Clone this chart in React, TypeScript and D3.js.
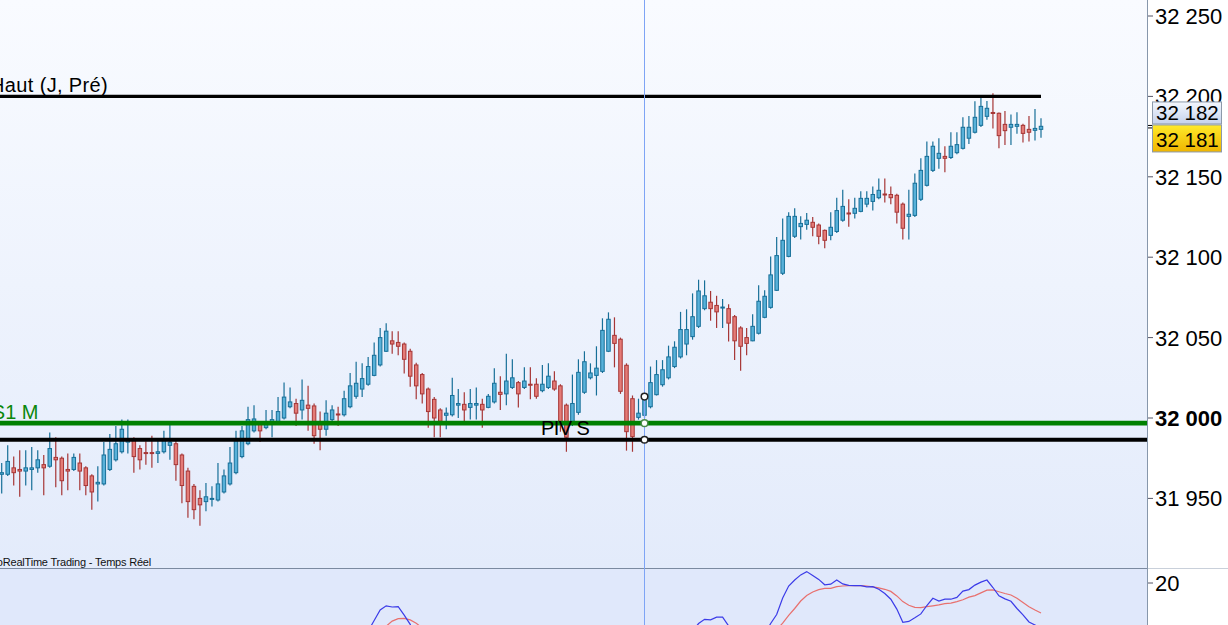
import * as d3 from 'd3';

const W = 1228;
const H = 625;
const PLOT_RIGHT = 1147;
const SPLIT_Y = 568;

// one bar per period, index 0 = leftmost bar
const opens = [
  31965, 31965, 31969, 31968, 31967, 31968, 31969, 31971, 31970, 31975.5,
  31975, 31968, 31968, 31972, 31969, 31964, 31959, 31959, 31968, 31974,
  31979, 31985, 31986, 31981, 31978.5, 31978.5, 31978, 31979, 31983, 31984,
  31977, 31967, 31957.5, 31950, 31948, 31949.5, 31949, 31954, 31959, 31966,
  31976, 31984, 31992, 31996, 31994, 31997, 31997, 32000, 32007, 32009,
  32005, 32008, 32007.5, 31996, 31993, 31999, 32002.5, 32002, 32007, 32013.5,
  32018, 32021, 32026.5, 32033, 32041.5, 32048, 32047, 32046, 32041.5, 32033,
  32027, 32018, 32011.6, 32005, 32001.7, 32002, 32008, 32008.5, 32006.6, 32008,
  32008.5, 32006.6, 32010, 32016, 32015, 32019, 32022, 32019, 32021, 32021,
  32017, 32019, 32023, 32020, 32008, 31997, 32003.5, 32016, 32025, 32026.5,
  32029, 32041.5, 32051.4, 32049, 32032.8, 32012, 32000.4, 32001.7, 32007, 32014.5,
  32020.7, 32025, 32032, 32038, 32046, 32050.6, 32057, 32068, 32072, 32070,
  32068.5, 32068, 32063, 32056, 32050, 32048, 32052.7, 32062.6, 32068.8, 32079.4,
  32090, 32100.5, 32113, 32119, 32120.4, 32121.7, 32120, 32116.7, 32113.6, 32116,
  32123, 32127.5, 32127.3, 32128.5, 32133, 32134.7, 32137, 32139.3, 32139, 32138.5,
  32133, 32125.4, 32126, 32136, 32144.7, 32154, 32161.5, 32162.7, 32162, 32165,
  32167.7, 32174, 32177.7, 32182, 32187.6, 32190, 32189.5, 32182.6, 32180.8, 32181.4,
  32182, 32179.5, 32178.9, 32179.5,
];
const highs = [
  31972, 31983, 31976, 31980, 31980, 31982, 31980, 31977, 31991, 31988,
  31976, 31978, 31978, 31978, 31970, 31965, 31970, 31985, 31990, 31995,
  31999, 31999, 31988, 31983, 31985.5, 31989, 31986, 31992, 31996, 31986,
  31978, 31969, 31959, 31955, 31959.6, 31957.5, 31972, 31968, 31982, 31992,
  31995, 32007, 32008, 31997, 32005, 32005, 32013, 32022, 32019, 32012,
  32024, 32020, 32009, 32004, 32011, 32008, 32007, 32017, 32028, 32035,
  32034, 32038, 32047, 32056, 32059, 32054, 32054, 32047, 32043, 32034.4,
  32028, 32019, 32013, 32006, 32006.6, 32025, 32018, 32016, 32018, 32019,
  32012, 32015, 32031, 32026, 32040, 32036.5, 32023, 32031.5, 32031.5, 32024.7,
  32033, 32034, 32029, 32021, 32009, 32027, 32036.5, 32041.5, 32034, 32044.6,
  32062, 32065.7, 32062.6, 32050, 32034, 32014, 32012, 32015, 32032, 32036,
  32036, 32045, 32047.7, 32066, 32067.6, 32077.5, 32086, 32085.6, 32079, 32076,
  32074, 32070.7, 32064, 32057, 32056, 32064.5, 32082.5, 32079.4, 32100.5, 32112.6,
  32124, 32128, 32130.4, 32125.4, 32127.5, 32125, 32121, 32117.3, 32128, 32137,
  32142, 32136, 32137, 32141, 32141, 32144, 32149, 32149, 32144, 32139.5,
  32134, 32142, 32152, 32161.5, 32172, 32172, 32174, 32169, 32177.7, 32177.7,
  32187, 32187.8, 32197, 32199.2, 32197.1, 32201.9, 32190, 32190.9, 32188.8, 32190.1,
  32183, 32187.8, 32192.2, 32186.4,
];
const lows = [
  31953, 31964, 31958, 31951, 31958, 31955, 31966, 31952, 31969, 31957,
  31952, 31955, 31967, 31955, 31952, 31943, 31948, 31958, 31967, 31973,
  31978, 31978, 31966, 31968, 31971, 31969, 31972, 31978, 31974, 31961,
  31947, 31938, 31937, 31933, 31942, 31945, 31948, 31953, 31958, 31965,
  31975, 31983, 31991, 31985, 31993, 31988, 31996, 31999, 32006, 31995,
  31999, 31992, 31984, 31980, 31989, 31996, 31995, 32001, 32006, 32012,
  32013, 32020, 32026, 32032, 32041, 32040, 32039, 32027.6, 32019.5, 32011.6,
  32009, 31994, 31988, 31988, 31993, 32001, 32000, 31998, 31999, 31999,
  31994, 32006, 32009, 32005, 32008, 32018, 32006.6, 32018, 32011.6, 32012,
  32016, 32018, 32017, 31991.5, 31979, 31995, 32002, 32015, 32024, 32014,
  32028, 32041, 32031.5, 32015, 31979.7, 31979, 31999, 32000, 32006, 32014,
  32019.5, 32024, 32031, 32037, 32039, 32048.7, 32056, 32067, 32060.5, 32056,
  32056, 32047.5, 32036, 32029.4, 32039, 32047.7, 32052, 32062, 32068, 32079,
  32089, 32100, 32112, 32111, 32117, 32113, 32108, 32105.5, 32110.5, 32115,
  32122, 32119, 32124, 32128, 32131, 32129, 32136, 32134, 32133, 32121,
  32111, 32111, 32125, 32135, 32144, 32153, 32155, 32152.8, 32161, 32164,
  32167, 32170.4, 32177, 32181, 32185.5, 32180.1, 32167.7, 32169.8, 32169.8, 32176.8,
  32171.4, 32171.9, 32172.5, 32174.3,
];
const closes = [
  31966, 31973, 31966, 31967, 31969, 31969, 31974, 31969, 31981, 31974,
  31961, 31967, 31975.5, 31967, 31958, 31954, 31960, 31977, 31980.5, 31984,
  31993, 31987, 31976, 31974, 31978, 31978, 31979, 31986, 31985, 31971,
  31958, 31948, 31943, 31946, 31951, 31950, 31959, 31964, 31972, 31986,
  31992, 31999, 31999.4, 31992, 31996, 31999, 32004, 32013, 32010, 32003,
  32011, 32006, 31989, 31993, 32003, 32005, 32002, 32012, 32020, 32021.6,
  32024.5, 32032, 32039, 32050, 32054, 32046, 32044.6, 32036.5, 32026, 32020,
  32015, 32004, 32000, 31998, 32003, 32014, 32009, 32005, 32009, 32009,
  32005, 32013.5, 32021.6, 32014.7, 32023, 32025, 32015, 32023, 32020.5, 32013.5,
  32021, 32026, 32018, 31996.7, 31988, 32009, 32028.4, 32035, 32028, 32031,
  32054.5, 32061.4, 32046.4, 32016.6, 31991.5, 31988.4, 32003, 32013.3, 32022, 32027,
  32030, 32038, 32044, 32055, 32055, 32063, 32079, 32076, 32068, 32066,
  32069, 32059, 32048, 32044.6, 32046.4, 32057, 32072.6, 32075.7, 32089, 32101,
  32110.5, 32125.4, 32125.4, 32121, 32123, 32118.6, 32113, 32110.5, 32118.6, 32129,
  32131.6, 32127, 32130.4, 32136.6, 32136.6, 32139, 32141.6, 32139, 32137, 32128,
  32118, 32126.7, 32146, 32154, 32162.7, 32169, 32164.6, 32161.5, 32169, 32170,
  32180.8, 32180.8, 32187, 32193.8, 32192.6, 32189.5, 32175.6, 32178.7, 32182.6, 32182.6,
  32177, 32177.7, 32180.1, 32181.4,
];

// horizontal levels
const HAUT_J_PRE = 32200;
const S1_M = 31996.8;
const PIV_S = 31986.5;
const CURSOR_INDEX = 107;

const priceTicks = [31950, 32000, 32050, 32100, 32150, 32200, 32250];
const LAST_ASK = 32182;
const LAST_BID = 32181;

// lower indicator: fast (blue) and slow (red) lines, visible stretches only
const fastSegments = [
  { from: 61, values: [4, 7.5, 11, 12.4, 12, 12.1, 9.3, 6.2, 2] },
  { from: 115, values: [4, 6.5, 7.9, 7.7, 8.6, 8.6, 5.7, 3] },
  {
    from: 127,
    values: [
      3, 6.5, 9.5, 15, 19, 21, 22.7, 23.8, 22.5, 21.2, 19.4, 19.6, 21, 19.7, 19.2, 19.1, 19.1,
      18.7, 18.8, 17.9, 16.5, 14.6, 11.3, 6.9, 7.2, 8.4, 9.7, 12.5, 14.9, 14, 14.6, 14.6, 15.2,
      17.3, 17.8, 19.3, 20.3, 21, 18.5, 15.7, 14.7, 13.9, 11.5, 9.4, 7, 6, 5,
    ],
  },
];
const slowSegments = [
  { from: 63, values: [4, 5.6, 7.3, 8.1, 8.2, 7.7, 6.6, 5] },
  {
    from: 128,
    values: [
      2, 4.5, 6.6, 9.2, 11.5, 14, 15.8, 17, 17.8, 18.2, 18.2, 18.8, 19, 19.1, 19.1, 19.1, 19,
      18.7, 18.4, 17.9, 17.2, 15.7, 13.8, 12.6, 11.9, 11.8, 12.1, 12.4, 12.7, 13.1, 13.3, 13.8,
      14.4, 15.3, 15.8, 16.7, 17.6, 17.7, 17.1, 16.5, 16, 14.9, 13.5, 12.1, 11, 10,
    ],
  },
];
const indTicks = [20];

const FONT = "Arial, 'Liberation Sans', sans-serif";
const UP_FILL = '#58b1d9';
const UP_LINE = '#176f98';
const DN_FILL = '#e47b77';
const DN_LINE = '#a63636';

const fmt = (v: number) => d3.format(',')(v).replace(/,/g, ' ');

export default function App() {
  const n = closes.length;
  const x = d3.scaleLinear().domain([0, n - 1]).range([1.7, 1041]);
  const y = d3.scaleLinear().domain([31950, 32250]).range([498.4, 16]);
  const yInd = d3.scaleLinear().domain([0, 20]).range([643, 583]);
  const bodyW = 3.5;

  const segLine = (from: number) =>
    d3
      .line<number>()
      .x((_, i) => x(from + i))
      .y((d) => yInd(d));

  const cx = x(CURSOR_INDEX);
  const bidY = y(LAST_BID);

  return (
    <svg
      width={W}
      height={H}
      style={{ position: 'fixed', left: 0, top: 0, display: 'block' }}
    >
      <defs>
        <linearGradient id="bgMain" x1="0" y1="0" x2="0" y2="1">
          <stop offset="0" stopColor="#f9fbff" />
          <stop offset="1" stopColor="#e3ebfb" />
        </linearGradient>
        <linearGradient id="askBox" x1="0" y1="0" x2="0" y2="1">
          <stop offset="0" stopColor="#f4f7fd" />
          <stop offset="1" stopColor="#c5d2ec" />
        </linearGradient>
        <linearGradient id="bidBox" x1="0" y1="0" x2="0" y2="1">
          <stop offset="0" stopColor="#ffea2a" />
          <stop offset="1" stopColor="#efb500" />
        </linearGradient>
        <clipPath id="clipMain">
          <rect x={0} y={0} width={PLOT_RIGHT} height={SPLIT_Y} />
        </clipPath>
        <clipPath id="clipInd">
          <rect x={0} y={SPLIT_Y + 1} width={PLOT_RIGHT} height={H - SPLIT_Y - 1} />
        </clipPath>
      </defs>

      {/* backgrounds */}
      <rect x={0} y={0} width={PLOT_RIGHT} height={SPLIT_Y} fill="url(#bgMain)" />
      <rect x={0} y={SPLIT_Y} width={PLOT_RIGHT} height={H - SPLIT_Y} fill="#e0e8fb" />
      <rect x={PLOT_RIGHT} y={0} width={W - PLOT_RIGHT} height={H} fill="#ffffff" />

      {/* candles */}
      <g clipPath="url(#clipMain)">
        {closes.map((c, i) => {
          const o = opens[i];
          const up = c >= o;
          const top = y(Math.max(o, c));
          const h = Math.max(y(Math.min(o, c)) - top, 1);
          const xc = x(i);
          return (
            <g key={i}>
              <line
                x1={xc}
                x2={xc}
                y1={y(highs[i])}
                y2={y(lows[i])}
                stroke={up ? UP_LINE : DN_LINE}
                strokeWidth={1.2}
              />
              <rect
                x={xc - bodyW / 2}
                y={top}
                width={bodyW}
                height={h}
                fill={up ? UP_FILL : DN_FILL}
                stroke={up ? UP_LINE : DN_LINE}
                strokeWidth={1}
              />
            </g>
          );
        })}

        {/* levels */}
        <line x1={0} x2={x(n - 1)} y1={y(HAUT_J_PRE)} y2={y(HAUT_J_PRE)} stroke="#000" strokeWidth={3.3} />
        <line x1={0} x2={PLOT_RIGHT} y1={y(S1_M)} y2={y(S1_M)} stroke="#008000" strokeWidth={4.6} />
        <line x1={0} x2={PLOT_RIGHT} y1={y(PIV_S)} y2={y(PIV_S)} stroke="#000" strokeWidth={4} />

        <text x={108} y={91.5} textAnchor="end" fontFamily={FONT} fontSize={20} fill="#000" letterSpacing={0.35}>
          Haut (J, Pré)
        </text>
        <text x={38.5} y={419} textAnchor="end" fontFamily={FONT} fontSize={20} fill="#0a870a">
          S1 M
        </text>
        <text x={541} y={435} fontFamily={FONT} fontSize={20} fill="#000" letterSpacing={-0.6}>
          PIV S
        </text>
        <text
          x={151}
          y={566}
          textAnchor="end"
          fontFamily="'Liberation Sans Narrow', 'Arial Narrow', Arial, sans-serif"
          fontSize={11}
          fill="#111"
          letterSpacing={-0.2}
        >
          © ProRealTime Trading - Temps Réel
        </text>
      </g>

      {/* lower indicator */}
      <g clipPath="url(#clipInd)" fill="none">
        {slowSegments.map((s, k) => (
          <path key={'s' + k} d={segLine(s.from)(s.values) ?? ''} stroke="#e8706e" strokeWidth={1.2} />
        ))}
        {fastSegments.map((s, k) => (
          <path key={'f' + k} d={segLine(s.from)(s.values) ?? ''} stroke="#3b3be8" strokeWidth={1.2} />
        ))}
      </g>

      {/* panel separator and price axis */}
      <line x1={0} x2={PLOT_RIGHT} y1={SPLIT_Y + 0.5} y2={SPLIT_Y + 0.5} stroke="#7b8aa0" strokeWidth={1} />
      <line x1={PLOT_RIGHT} x2={W} y1={SPLIT_Y + 0.5} y2={SPLIT_Y + 0.5} stroke="#c9d0da" strokeWidth={1} />
      <line x1={PLOT_RIGHT + 0.5} x2={PLOT_RIGHT + 0.5} y1={0} y2={H} stroke="#8797ab" strokeWidth={1} />

      {/* cursor */}
      <line x1={cx} x2={cx} y1={0} y2={H} stroke="#7ea4f5" strokeWidth={1} />
      <circle cx={cx} cy={y(closes[CURSOR_INDEX])} r={3.3} fill="#fff" stroke="#222" strokeWidth={1.5} />
      <circle cx={cx} cy={y(S1_M)} r={3.3} fill="#fff" stroke="#4a8a4a" strokeWidth={1.5} />
      <circle cx={cx} cy={y(PIV_S)} r={3.3} fill="#fff" stroke="#222" strokeWidth={1.5} />

      {priceTicks.map((t) => (
        <g key={t}>
          <line x1={PLOT_RIGHT + 1} x2={PLOT_RIGHT + 6} y1={y(t)} y2={y(t)} stroke="#556" strokeWidth={1} />
          <text
            x={1155}
            y={y(t)}
            dy="0.36em"
            fontFamily={FONT}
            fontSize={22}
            fontWeight={t === 32000 ? 'bold' : 'normal'}
            fill="#000"
          >
            {fmt(t)}
          </text>
        </g>
      ))}
      {indTicks.map((t) => (
        <g key={'i' + t}>
          <line x1={PLOT_RIGHT + 1} x2={PLOT_RIGHT + 6} y1={yInd(t)} y2={yInd(t)} stroke="#556" strokeWidth={1} />
          <text x={1155} y={yInd(t)} dy="0.36em" fontFamily={FONT} fontSize={22} fill="#000">
            {t}
          </text>
        </g>
      ))}

      {/* last price boxes */}
      <line x1={PLOT_RIGHT + 1} x2={PLOT_RIGHT + 5} y1={bidY - 1.5} y2={bidY - 1.5} stroke="#000" strokeWidth={1} />
      <line x1={PLOT_RIGHT + 1} x2={PLOT_RIGHT + 5} y1={bidY + 1} y2={bidY + 1} stroke="#000" strokeWidth={1} />
      <rect x={1152.5} y={bidY - 25} width={69} height={22} fill="url(#askBox)" stroke="#8c99aa" strokeWidth={1} />
      <text x={1156} y={bidY - 14} dy="0.36em" fontFamily={FONT} fontSize={20.5} fill="#000">
        {fmt(LAST_ASK)}
      </text>
      <rect x={1152.5} y={bidY - 2} width={69} height={27} fill="url(#bidBox)" stroke="#8c99aa" strokeWidth={1} />
      <text x={1156} y={bidY + 12.5} dy="0.36em" fontFamily={FONT} fontSize={20.5} fill="#000">
        {fmt(LAST_BID)}
      </text>
    </svg>
  );
}
